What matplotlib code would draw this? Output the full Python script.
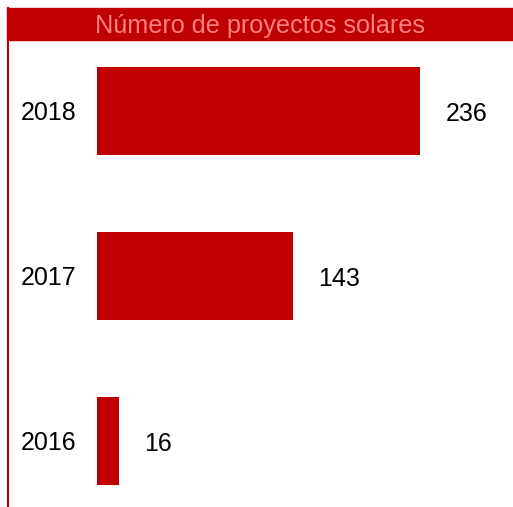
import matplotlib
matplotlib.use("Agg")
import matplotlib.pyplot as plt
from matplotlib.patches import Rectangle
from matplotlib.lines import Line2D

plt.rcParams['font.family'] = ['Liberation Sans', 'DejaVu Sans']

anios = ["2016", "2017", "2018"]
proyectos = [16, 143, 236]
titulo = "Número de proyectos solares"

rojo = "#C00000"
W, H = 513, 507

fig = plt.figure(figsize=(W / 100, H / 100), dpi=100)

# ejes: 0 del eje x en x=97 px, debajo de la barra de titulo
ax = fig.add_axes([97 / W, 0, (W - 97) / W, (H - 40) / H])
pos = list(range(len(anios)))
ax.barh(pos, proyectos, height=0.533, color=rojo)
ax.set_xlim(0, (W - 97) / 1.37)
ax.set_ylim(-0.4, 2.43)

for p, v in zip(pos, proyectos):
    ax.annotate(str(v), (v, p), xytext=(18, -2), textcoords="offset points",
                ha="left", va="center", fontsize=18, color="#000000")

ax.set_yticks(pos)
ax.set_yticklabels(anios, fontsize=18, color="#000000")
ax.tick_params(axis="y", length=0, pad=15)
ax.set_xticks([])
for s in ax.spines.values():
    s.set_visible(False)

# barra de titulo
fig.patches.append(Rectangle((7 / W, (H - 40) / H), 1 - 7 / W, 32 / H,
                             transform=fig.transFigure, color=rojo, zorder=0))
fig.text((7 + W) / 2 / W, (H - 26) / H, titulo, ha="center", va="center",
         fontsize=18.2, color="#FF8080")

# linea izquierda
fig.lines.append(Line2D([8 / W, 8 / W], [0, (H - 8) / H],
                        transform=fig.transFigure, color=rojo, lw=1.5))

fig.savefig("out.png", dpi=100)
